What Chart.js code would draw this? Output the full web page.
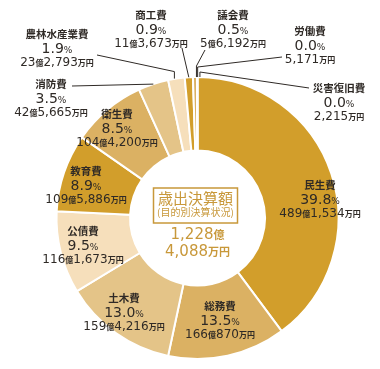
<!DOCTYPE html>
<html lang="ja">
<head>
<meta charset="utf-8">
<script src="https://cdn.jsdelivr.net/npm/chart.js@4"></script>
<style>
  html, body { margin: 0; padding: 0; background: #fff; }
  #wrap { width: 380px; height: 369px; }
</style>
</head>
<body>
<div id="wrap"><canvas id="chart" width="380" height="369"></canvas></div>
<script>
// 歳出決算額（目的別決算状況） 金額は万円単位
const categories = ['民生費', '総務費', '土木費', '公債費', '教育費', '衛生費', '消防費', '農林水産業費', '商工費', '議会費', '労働費', '災害復旧費'];
const amounts = [4891534, 1660870, 1594216, 1161673, 1095886, 1044200, 425665, 232793, 113673, 56192, 5171, 2215];
const percents = [39.8, 13.5, 13.0, 9.5, 8.9, 8.5, 3.5, 1.9, 0.9, 0.5, 0.0, 0.0];
const centerTitle = '歳出決算額';
const centerSub = '(目的別決算状況)';
const totalOku = '1,228';
const totalMan = '4,088';

// 色（金・中間・薄茶・淡色のくり返し）
const palette = ['#D29E2B', '#DBB163', '#E4C488', '#F6DFBB'];
const sliceColors = categories.map((c, i) => palette[i % 4]);

// ラベルの置き場所（% の行の中心）。外側ラベルは引き出し線つき
const labelLayout = [
  { x: 320, y: 199 },
  { x: 220, y: 320 },
  { x: 124, y: 312 },
  { x: 83,  y: 245 },
  { x: 86,  y: 185 },
  { x: 117, y: 128 },
  { x: 51,  y: 98,  lead: [72, 86] },
  { x: 57,  y: 48,  lead: [97, 55],  elbow: [-2, 7] },
  { x: 151, y: 29,  lead: [182, 48] },
  { x: 233, y: 29,  lead: [205, 50], elbow: [1.5, 11] },
  { x: 310, y: 45,  lead: [282, 57], elbow: [0.5, 10] },
  { x: 339, y: 102, lead: [309, 88], elbow: [2.5, 5] }
];

const JP = '"Noto Sans CJK JP", sans-serif';
const NUM = '"DejaVu Sans", sans-serif';
const ink = '#2f2a26';

function formatAmount(man) {
  const oku = Math.floor(man / 10000);
  const rest = man % 10000;
  const runs = [];
  if (oku > 0) {
    runs.push({ t: oku.toLocaleString('en-US'), f: '12px ' + NUM });
    runs.push({ t: '億', f: 'bold 8px ' + JP });
  }
  runs.push({ t: rest.toLocaleString('en-US'), f: '12px ' + NUM });
  runs.push({ t: '万円', f: 'bold 8px ' + JP });
  return runs;
}

function drawRuns(ctx, runs, cx, baseY) {
  let w = 0;
  runs.forEach(r => { ctx.font = r.f; r.w = ctx.measureText(r.t).width; w += r.w; });
  let x = cx - w / 2;
  runs.forEach(r => { ctx.font = r.f; ctx.fillText(r.t, x, baseY); x += r.w; });
}

const labelPlugin = {
  id: 'sliceLabels',
  afterDatasetsDraw(chart) {
    const ctx = chart.ctx;
    const meta = chart.getDatasetMeta(0);
    ctx.save();
    ctx.textAlign = 'left';
    ctx.textBaseline = 'alphabetic';

    meta.data.forEach((arc, i) => {
      const p = arc.getProps(['x', 'y', 'startAngle', 'endAngle', 'outerRadius'], true);
      const lay = labelLayout[i];
      ctx.fillStyle = ink;

      // 引き出し線
      if (lay.lead) {
        const mid = (p.startAngle + p.endAngle) / 2;
        let ex = p.x + Math.cos(mid) * p.outerRadius;
        let ey = p.y + Math.sin(mid) * p.outerRadius;
        ctx.strokeStyle = ink;
        ctx.lineWidth = 1;
        ctx.beginPath();
        ctx.moveTo(lay.lead[0], lay.lead[1]);
        if (lay.elbow) {
          ex += lay.elbow[0];
          ctx.lineTo(ex, ey - lay.elbow[1]);
        }
        ctx.lineTo(ex, ey);
        ctx.stroke();
      }

      drawRuns(ctx, [{ t: categories[i], f: 'bold 10.5px ' + JP }], lay.x, lay.y - 10);
      drawRuns(ctx, [
        { t: percents[i].toFixed(1), f: '14px ' + NUM },
        { t: '%', f: '9px ' + NUM }
      ], lay.x, lay.y + 5);
      drawRuns(ctx, formatAmount(amounts[i]), lay.x, lay.y + 17.5);
    });

    // 中央の合計
    const c = meta.data[0];
    const gold = '#C8983A';
    ctx.fillStyle = gold;
    ctx.strokeStyle = gold;
    ctx.lineWidth = 1.5;
    ctx.strokeRect(c.x - 44, c.y - 30, 84, 35);
    drawRuns(ctx, [{ t: centerTitle, f: '15px ' + JP }], c.x - 2, c.y - 14);
    drawRuns(ctx, [{ t: centerSub, f: '10px ' + JP }], c.x - 2, c.y - 2);
    drawRuns(ctx, [
      { t: totalOku, f: '15px ' + NUM },
      { t: '億', f: 'bold 11px ' + JP }
    ], c.x, c.y + 21);
    drawRuns(ctx, [
      { t: totalMan, f: '15px ' + NUM },
      { t: '万円', f: 'bold 11px ' + JP }
    ], c.x, c.y + 38);
    ctx.restore();
  }
};

new Chart(document.getElementById('chart'), {
  type: 'doughnut',
  data: {
    labels: categories,
    datasets: [{
      data: amounts,
      backgroundColor: sliceColors,
      borderColor: '#ffffff',
      borderWidth: 2
    }]
  },
  options: {
    responsive: false,
    animation: false,
    radius: 141,
    cutout: 67,
    rotation: 0,
    layout: { padding: { left: 50, right: 35, top: 77, bottom: 10 } },
    plugins: {
      legend: { display: false },
      tooltip: { enabled: false }
    }
  },
  plugins: [labelPlugin]
});
</script>
</body>
</html>
